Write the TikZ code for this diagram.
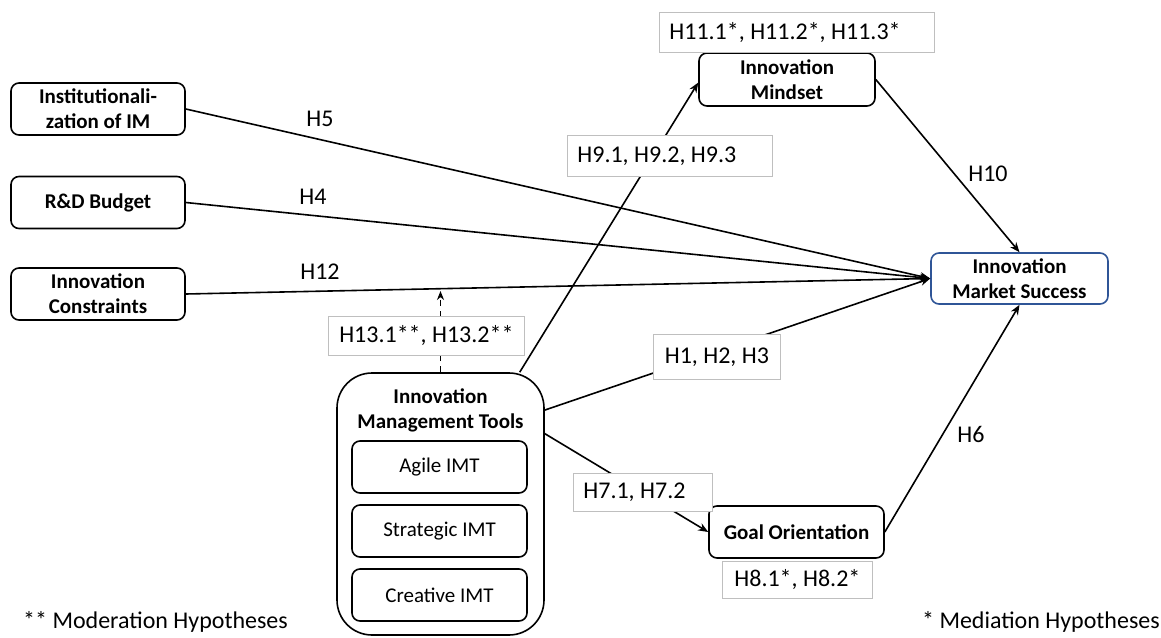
\documentclass[tikz,border=0pt]{standalone}
\usepackage{fontspec}
\setmainfont{Carlito}
\usetikzlibrary{arrows.meta}
\definecolor{imsblue}{RGB}{47,85,151}
\definecolor{lblgray}{RGB}{191,191,191}
\begin{document}
\begin{tikzpicture}[x=1pt,y=-1pt,
  box/.style={draw, line width=1.6pt, rounded corners=8pt, fill=white, align=center, font=\bfseries\fontsize{21}{25}\selectfont, inner sep=0pt},
  sub/.style={draw, line width=1.6pt, rounded corners=8pt, align=center, font=\fontsize{21}{25}\selectfont, inner sep=0pt, minimum width=175pt, minimum height=52pt},
  lbl/.style={draw=lblgray, line width=0.8pt, fill=white, font=\fontsize{24}{28}\selectfont, inner xsep=10pt, inner ysep=0pt, anchor=north west},
  plain/.style={font=\fontsize{24}{28}\selectfont, inner sep=0pt},
  conn/.style={line width=1.6pt, -{Stealth[length=10pt,width=8pt]}},
]
\useasboundingbox (0,0) rectangle (1161,637);
% main nodes
\node[box, minimum width=174pt, minimum height=52pt] (inst) at (98,109) {Institutionali-\\zation of IM};
\node[box, minimum width=174pt, minimum height=52pt] (rd) at (98,202.5) {R\&D Budget};
\node[box, minimum width=174pt, minimum height=52pt] (con) at (98,294) {Innovation\\Constraints};
\node[box, minimum width=176pt, minimum height=53pt] (mind) at (787,79.5) {Innovation\\Mindset};
\node[box, draw=imsblue, minimum width=177pt, minimum height=51pt] (ims) at (1019.5,278.5) {Innovation\\Market Success};
\node[box, minimum width=175pt, minimum height=52pt] (goal) at (796.5,532) {Goal Orientation};
\node[box, rounded corners=35pt, minimum width=207pt, minimum height=262pt] (imt) at (440.5,504) {};
\node[box, draw=none, fill=none] (imttitle) at (440.5,410) {Innovation\\Management Tools};
\node[sub] (agile) at (439.5,467) {Agile IMT};
\node[sub] (strat) at (439.5,531) {Strategic IMT};
\node[sub] (creat) at (439.5,595) {Creative IMT};
% connectors
\draw[conn] (inst.east) -- (ims.west);
\draw[conn] (rd.east) -- (ims.west);
\draw[conn] (con.east) -- (ims.west);
\draw[conn] (imt.42.5) -- (ims.west);
\draw[conn] (imt.59.5) -- (mind.182);
\draw[conn] (imt.34) -- (goal.west);
\draw[conn] (goal.east) -- (ims.south);
\draw[conn] (mind.east) -- (ims.north);
\coordinate (mod) at (440.5,291);
\draw[line width=1.6pt, dash pattern=on 6pt off 5pt, -{Stealth[length=9pt,width=7pt]}] (imt.north) -- (mod);
% label boxes
\node[lbl, minimum height=40pt] (h11) at (659,12) {\makebox[255pt][l]{H11.1*, H11.2*, H11.3*}};
\node[lbl, minimum height=41pt] (h9) at (567,135) {\makebox[185pt][l]{H9.1, H9.2, H9.3}};
\node[lbl, minimum height=39pt, minimum width=196pt] (h13) at (328,316) {H13.1**, H13.2**};
\node[lbl, minimum height=45pt, minimum width=127pt] (h1) at (653,334) {H1, H2, H3};
\node[lbl, minimum height=38pt] (h7) at (573,473) {\makebox[119pt][l]{H7.1, H7.2}};
\node[lbl, minimum height=37pt, minimum width=150pt] (h8) at (722,561) {H8.1*, H8.2*};
% plain labels
\node[plain] (h5) at (320,119) {H5};
\node[plain] (h4) at (313,197) {H4};
\node[plain] (h12) at (320,272) {H12};
\node[plain] (h10) at (988,174) {H10};
\node[plain] (h6) at (971,434) {H6};
% notes
\node[plain, anchor=base west] (modnote) at (23,628) {** Moderation Hypotheses};
\node[plain, anchor=base east] (mednote) at (1160,628) {* Mediation Hypotheses};
\end{tikzpicture}
\end{document}
